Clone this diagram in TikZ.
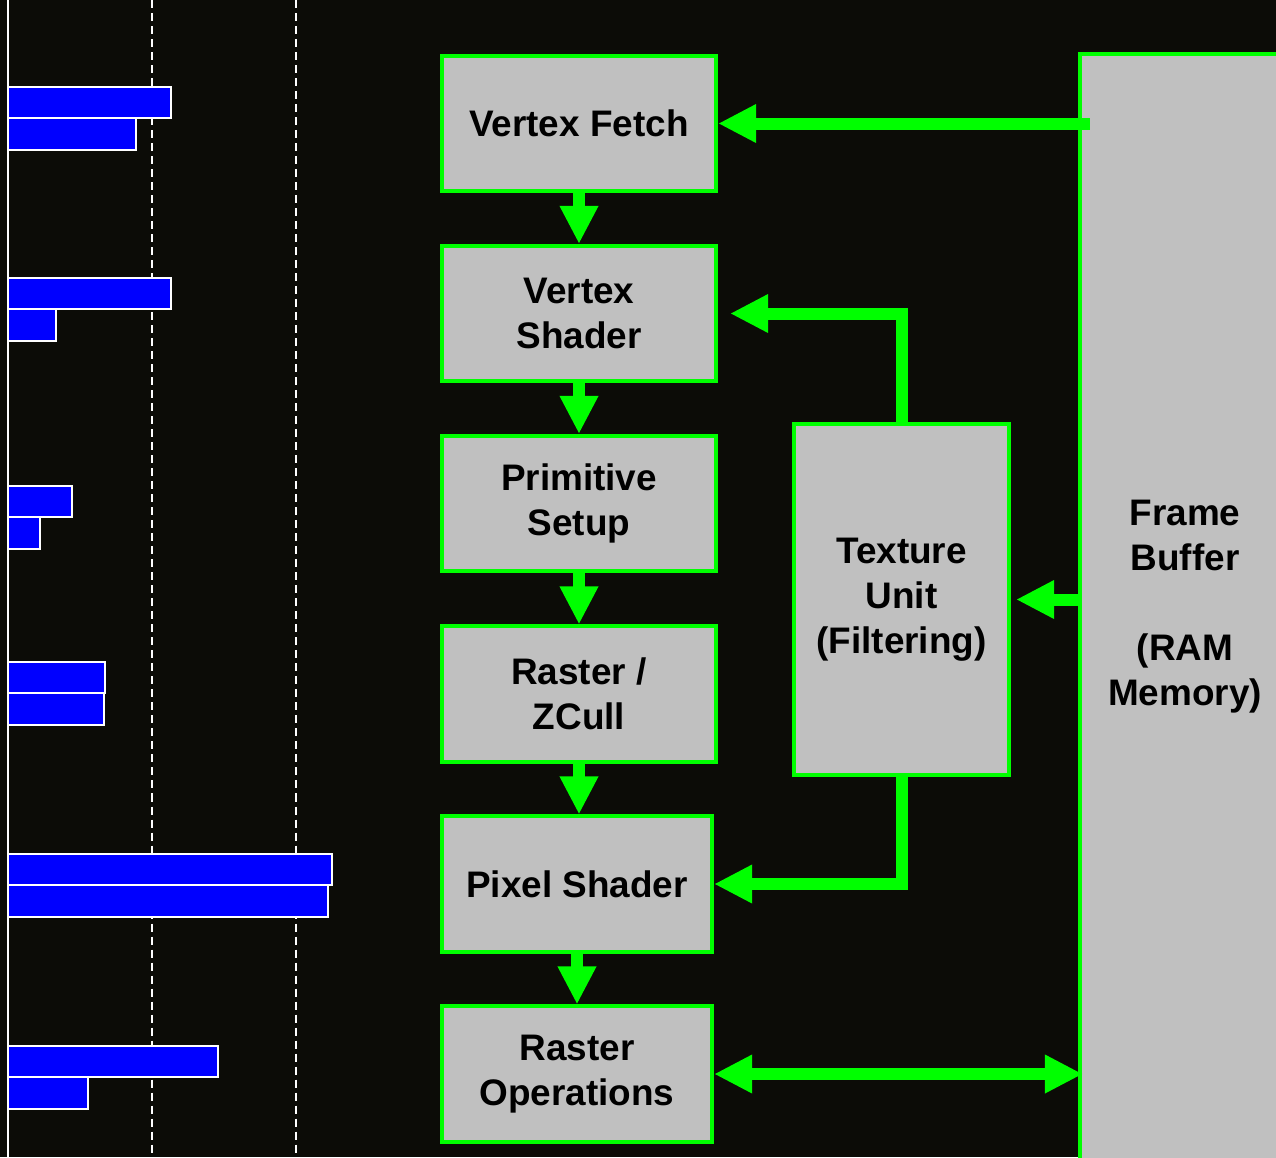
\documentclass[tikz,border=0pt]{standalone}
\usepackage{fontspec}
\setmainfont{Liberation Sans}
\usepackage{xcolor}
\definecolor{pipeGreen}{HTML}{00FF00}
\definecolor{pipeGray}{HTML}{C0C0C0}
\definecolor{barBlue}{HTML}{0000FF}
\definecolor{slideDark}{HTML}{0C0C07}
\usepackage{tikz}
\usetikzlibrary{arrows.meta}

\begin{document}
\begin{tikzpicture}[x=0.01cm, y=-0.01cm,
  stage/.style={draw=pipeGreen, fill=pipeGray, line width=0.04cm,
    minimum width=2.74cm, minimum height=1.35cm, inner sep=0pt,
    align=center, font=\bfseries\fontsize{10.5}{12.8}\selectfont},
  flow/.style={draw=pipeGreen, line width=0.12cm,
    -{Triangle[length=0.38cm, width=0.36cm]}},
  bar/.style={draw=white, fill=barBlue, line width=0.015cm}]
  \useasboundingbox (0,0) rectangle (1276,1157);
  \clip (0,0) rectangle (1276,1157);
  \fill[slideDark] (0,0) rectangle (1276,1157);

  % ---- left: load bars ----
  \draw[white, line width=0.012cm] (8,0) -- (8,1157);
  \foreach \x in {152,296}
    \draw[white, line width=0.015cm, dash pattern=on 0.08cm off 0.05cm] (\x,0) -- (\x,1157);
  \foreach \y/\a/\b in {87/171/136, 278/171/56, 486/72/40, 662/105/104, 854/332/328, 1046/218/88} {
    \draw[bar] (8,\y) rectangle (\a,\y+31);
    \draw[bar] (8,\y+31) rectangle (\b,\y+63);
  }

  % ---- pipeline stages ----
  \node[stage] (fetch)   at (579,123.5)  {Vertex Fetch};
  \node[stage] (vshader) at (579,313.5)  {Vertex\\Shader};
  \node[stage] (setup)   at (579,503.5)  {Primitive\\Setup};
  \node[stage] (raster)  at (579,694)    {Raster /\\ZCull};
  \node[stage, minimum width=2.70cm] (pshader) at (577,884) {Pixel Shader};
  \node[stage, minimum width=2.70cm] (rop)     at (577,1074) {Raster\\Operations};
  \node[stage, minimum width=2.15cm, minimum height=3.51cm] (texture) at (901.5,599.5)
    {Texture\\Unit\\(Filtering)};
  \node[stage, minimum width=2.10cm, minimum height=11.06cm] (fbuf) at (1185,607)
    {Frame\\Buffer\\[12.8pt](RAM\\Memory)};

  % ---- connectors ----
  \draw[flow] (fetch) -- (vshader);
  \draw[flow] (vshader) -- (setup);
  \draw[flow] (setup) -- (raster);
  \draw[flow] (raster.south) -- (raster.south |- pshader.north);
  \draw[flow] (pshader) -- (rop);
  \draw[flow] (fbuf.west |- fetch.east) ++(12,0) -- (fetch.east);
  \draw[flow, shorten >=0.12cm] (texture.north) |- (vshader.east);
  \draw[flow] (texture.south) |- (pshader.east);
  \draw[flow, shorten >=0.05cm] (fbuf.west |- texture.east) -- (texture.east);
  \draw[flow, {Triangle[length=0.38cm, width=0.36cm]}-{Triangle[length=0.38cm, width=0.36cm]}, shorten >=-0.05cm]
    (rop.east) -- (fbuf.west |- rop.east);
\end{tikzpicture}
\end{document}
